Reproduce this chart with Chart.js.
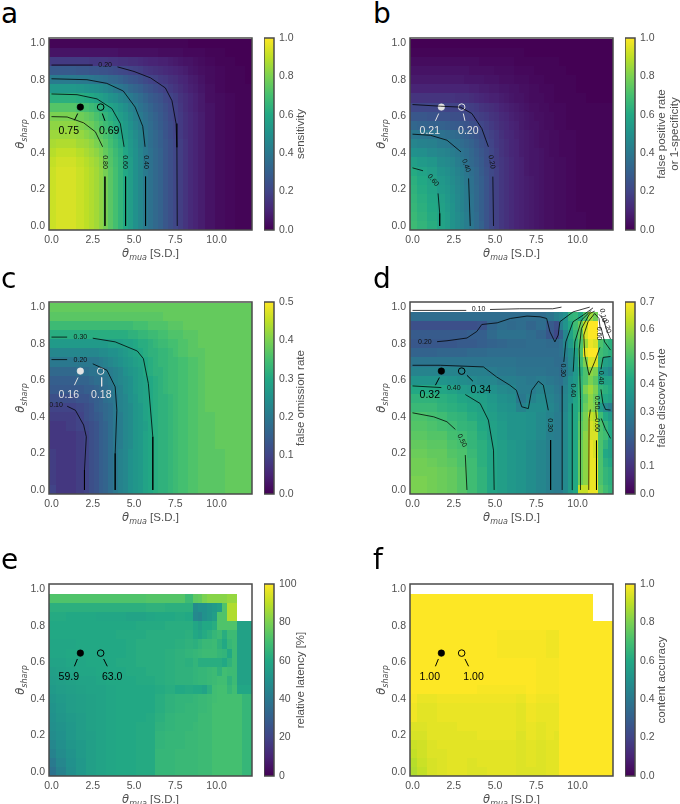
<!DOCTYPE html>
<html>
<head>
<meta charset="utf-8">
<style>
  html, body { margin: 0; padding: 0; background: #fff; }
  #page { position: relative; width: 680px; height: 804px; overflow: hidden; }
  canvas { position: absolute; filter: blur(0.35px); }
  .letter { position: absolute; font: 28px "DejaVu Sans", sans-serif; color: #000; line-height: 28px; }
</style>
<script src="https://cdn.jsdelivr.net/npm/chart.js@4"></script>
</head>
<body>
<div id="page"></div>
<script>
const _ = null;

const muaSmooth = [0, 0.6, 1.2, 1.8, 2.1, 2.4, 2.7, 3, 3.3, 3.6, 3.9, 4.2, 4.5, 4.8, 5.1, 5.4, 5.7, 6, 6.3, 6.6, 6.9, 7.2, 7.5, 7.8, 8.1, 8.4, 8.7, 9, 9.6, 10.2, 10.8, 11.4, 12];
const muaFine = [0, 0.6, 1.2, 1.8, 2.4, 3, 3.6, 4.2, 4.8, 5.4, 6, 6.6, 7.2, 7.8, 8.4, 8.7, 9, 9.3, 9.6, 9.9, 10.2, 10.5, 10.8, 11.1, 11.4, 11.7, 12];
const sharpValues = [0, 0.05, 0.1, 0.15, 0.2, 0.25, 0.3, 0.35, 0.4, 0.45, 0.5, 0.55, 0.6, 0.65, 0.7, 0.75, 0.8, 0.85, 0.9, 0.95, 1];
const muaTicks = [0, 2.5, 5, 7.5, 10];
const sharpTicks = [0, 0.2, 0.4, 0.6, 0.8, 1];

// rows run from sharp = 0 upwards, values are in percent
const sensLow = [92,94,94,92,90,88,86,83,79,74,70,65,60,55,50,46,41,37,34,31,27,24,21,18,15,12,10,8,5,3,2,1,1];
const sensitivity = [
  sensLow, sensLow, sensLow, sensLow, sensLow, sensLow, sensLow,
  [91,93,93,91,89,87,85,82,78,73,69,65,60,55,50,46,41,37,34,31,27,24,21,18,15,12,10,8,5,3,2,1,1],
  [89,91,91,89,87,85,83,80,76,72,68,64,59,54,50,45,41,37,34,31,27,24,21,18,15,12,10,8,5,3,2,1,1],
  [87,88,88,86,85,83,80,77,74,70,66,62,58,53,49,44,40,36,33,30,27,24,21,18,15,12,10,8,5,3,2,1,1],
  [85,85,85,84,82,80,77,74,71,68,64,60,56,52,48,44,40,36,33,30,26,23,20,17,14,12,10,8,5,3,2,1,1],
  [83,83,83,81,79,77,74,71,68,65,62,58,54,50,46,42,38,35,32,29,26,23,20,17,14,12,10,8,5,3,2,1,1],
  [80,80,80,78,76,74,71,68,65,62,59,55,52,48,44,41,37,34,31,28,25,22,19,17,14,12,10,8,5,3,2,1,1],
  [73,73,73,71,70,68,66,63,61,58,55,52,49,45,42,38,35,32,29,27,24,21,19,16,13,11,9,7,5,3,2,1,1],
  [63,63,63,62,61,60,58,56,54,51,49,46,44,41,38,35,32,29,27,25,22,20,18,15,13,11,9,7,4,3,2,1,1],
  [53,53,53,52,51,50,49,48,46,44,41,39,37,34,32,30,27,25,23,21,19,17,15,13,11,9,8,6,4,2,1,1,1],
  [41,41,41,40,40,39,38,37,36,34,33,31,29,27,26,24,22,20,19,17,16,14,13,11,10,8,7,5,3,2,1,1,0],
  [28,28,28,27,27,26,26,25,25,24,23,22,21,20,19,18,16,15,14,13,12,11,10,9,8,6,5,4,3,2,1,1,0],
  [17,17,17,17,17,16,16,16,16,15,15,14,14,13,13,12,11,10,10,9,9,8,7,6,5,5,4,3,2,1,1,0,0],
  [5,5,5,5,5,5,5,5,5,5,5,4,4,4,4,4,4,4,4,3,3,3,3,3,2,2,2,2,1,1,0,0,0],
  [1,1,1,1,1,1,1,1,1,1,1,1,1,1,1,1,1,1,1,1,1,1,1,1,1,0,0,0,0,0,0,0,0]
];

const falsePositive = [
  [68,65,62,58,55,51,48,45,42,39,35,31,26,22,19,16,14,12,10,9,8,7,6,5,4,4,3,3,2,2,1,1,1],
  [67,64,61,58,55,51,48,45,42,38,35,30,26,22,19,16,14,12,10,9,8,7,6,5,4,4,3,3,2,2,1,1,1],
  [66,63,60,57,54,51,47,44,41,38,34,30,26,22,19,16,14,12,10,9,8,7,6,5,4,4,3,3,2,1,1,1,1],
  [65,62,59,56,53,50,47,44,41,38,34,30,26,22,19,16,14,12,10,9,8,7,6,5,4,4,3,3,2,1,1,1,1],
  [64,61,58,54,52,49,46,44,41,37,34,30,26,22,19,16,14,12,10,9,8,7,6,5,4,4,3,3,2,1,1,1,1],
  [63,60,57,53,51,48,45,43,40,37,33,30,26,22,19,16,14,12,10,9,8,7,6,5,4,4,3,3,2,1,1,1,1],
  [61,58,55,51,49,47,44,42,39,36,33,29,25,22,19,16,14,12,10,9,7,6,6,5,4,4,3,3,2,1,1,1,1],
  [56,54,52,48,47,45,42,40,37,34,31,28,24,21,18,16,14,12,10,9,7,6,6,5,4,4,3,3,2,1,1,1,1],
  [50,49,47,45,44,42,40,38,36,33,30,27,24,21,18,15,13,11,10,8,7,6,6,5,4,3,3,2,2,1,1,1,1],
  [45,44,43,41,40,38,37,35,33,31,28,25,23,20,17,15,13,11,10,8,7,6,5,4,4,3,3,2,2,1,1,1,1],
  [40,39,38,37,36,35,34,32,30,28,26,24,21,19,17,14,12,11,9,8,7,6,5,4,4,3,3,2,2,1,1,1,1],
  [33,32,31,31,30,29,28,27,26,24,23,21,19,17,15,13,12,10,9,7,6,5,5,4,3,3,2,2,1,1,1,1,1],
  [27,27,26,25,25,24,24,23,22,21,19,18,17,15,14,12,11,9,8,7,6,5,4,4,3,3,2,2,1,1,1,1,1],
  [21,21,21,21,20,20,20,20,19,18,17,15,14,13,12,10,9,8,7,6,5,4,4,3,3,2,2,2,1,1,1,1,1],
  [15,15,15,15,15,15,14,14,14,13,12,11,10,9,9,8,7,6,5,5,4,3,3,3,2,2,1,1,1,1,0,0,0],
  [10,10,10,10,10,10,10,10,10,9,9,8,8,7,7,6,6,5,5,4,4,3,3,2,2,2,1,1,1,0,0,0,0],
  [7,7,7,7,7,7,7,7,6,6,6,6,5,5,5,4,4,4,3,3,3,2,2,2,1,1,1,1,1,0,0,0,0],
  [5,5,5,5,5,5,5,5,5,4,4,4,4,4,3,3,3,3,2,2,2,2,1,1,1,1,1,1,0,0,0,0,0],
  [3,3,3,3,3,3,3,3,3,3,3,2,2,2,2,2,2,2,1,1,1,1,1,1,1,1,1,0,0,0,0,0,0],
  [1,1,1,1,1,1,1,1,1,1,1,1,1,1,1,1,1,1,1,1,0,0,0,0,0,0,0,0,0,0,0,0,0],
  [0,0,0,0,0,0,0,0,0,0,0,0,0,0,0,0,0,0,0,0,0,0,0,0,0,0,0,0,0,0,0,0,0]
];

const omissionLow = [9,8,8,9,10,12,13,15,16,18,20,22,23,25,26,27,29,30,31,32,32,33,34,35,35,36,36,37,37,37,38,38,38];
const falseOmission = [
  [10,8,8,9,10,12,13,15,16,18,20,22,23,25,26,27,29,30,31,32,32,33,34,35,35,36,36,37,37,37,38,38,38],
  omissionLow, omissionLow, omissionLow, omissionLow,
  [8,8,8,9,10,12,13,15,16,18,20,21,23,24,26,27,29,30,31,32,32,33,34,35,35,36,36,37,37,38,38,38,38],
  [8,8,8,9,10,12,13,15,16,18,20,21,23,24,26,27,29,30,31,32,32,33,34,35,35,36,36,37,37,38,38,38,38],
  [8,8,9,10,11,12,13,15,16,18,20,21,23,24,26,27,28,30,31,32,32,33,34,35,35,36,36,37,37,38,38,38,38],
  [9,9,9,10,12,13,14,15,17,18,20,21,23,24,26,27,29,30,31,32,32,33,34,35,35,36,36,37,37,38,38,38,38],
  [10,10,10,11,12,13,15,16,17,18,20,22,23,24,26,27,29,30,31,32,32,33,34,35,35,36,36,37,38,38,38,38,38],
  [12,12,12,13,13,14,15,16,18,19,20,22,23,25,26,28,29,30,31,32,32,33,34,35,35,36,36,37,38,38,38,38,38],
  [14,14,14,14,15,15,16,17,18,19,21,22,24,25,27,28,29,30,31,32,33,34,34,35,35,36,36,37,38,38,38,38,38],
  [15,15,15,16,16,17,18,18,19,20,22,23,24,25,27,28,29,30,31,32,33,34,34,35,35,36,36,37,38,38,38,38,38],
  [17,17,17,18,18,19,19,19,20,21,22,23,25,26,27,28,30,31,32,32,33,34,34,35,35,36,36,37,38,38,38,38,38],
  [20,20,20,20,20,20,20,21,22,23,24,25,26,27,28,29,30,31,32,33,33,34,34,35,35,36,36,37,38,38,38,38,38],
  [23,23,23,23,23,23,23,24,24,25,25,26,27,28,29,30,31,32,32,33,33,34,35,36,36,37,37,37,38,38,38,38,38],
  [27,27,27,27,27,27,27,27,27,28,28,28,29,29,30,31,31,32,33,34,34,35,35,36,36,37,37,38,38,38,38,38,38],
  [31,31,31,31,31,31,31,31,31,31,31,31,31,32,32,33,33,34,34,35,35,36,36,36,37,37,37,38,38,38,38,38,38],
  [34,34,34,34,34,34,34,34,34,34,34,34,34,34,35,35,35,36,36,36,36,37,37,37,38,38,38,38,38,38,38,38,38],
  [37,37,37,37,37,37,37,37,37,37,37,37,37,37,37,37,37,37,37,37,38,38,38,38,38,38,38,38,38,38,38,38,38],
  [38,38,38,38,38,38,38,38,38,38,38,38,38,38,38,38,38,38,38,38,38,38,38,38,38,38,38,38,38,38,38,38,38]
];

const falseDiscovery = [
  [56,56,55,54,53,51,48,45,41,39,37,36,34,32,30,29,29,33,38,42,64,64,68,68,52,48,45],
  [56,56,55,54,53,51,48,45,41,39,37,36,34,32,30,29,29,33,38,42,54,58,68,68,50,46,44],
  [55,55,55,54,53,51,48,45,41,39,37,36,34,32,30,29,29,33,38,42,54,58,68,68,50,46,44],
  [55,55,54,53,52,50,48,44,41,39,37,36,34,32,30,29,29,33,38,42,54,58,68,68,50,44,42],
  [54,54,53,53,51,50,47,44,41,39,37,36,34,32,30,29,29,33,38,42,54,58,68,66,50,42,40],
  [53,53,52,52,50,49,46,44,41,39,37,36,34,32,30,29,29,33,38,42,54,58,68,66,50,45,40],
  [52,52,51,51,49,48,46,43,40,38,36,36,35,33,30,29,29,33,38,42,52,58,66,66,50,48,42],
  [51,51,50,49,48,46,45,42,40,38,36,36,35,33,31,29,29,33,38,42,52,56,66,64,50,46,42],
  [50,50,49,48,46,45,43,41,39,37,36,36,35,33,31,29,29,33,38,42,50,56,64,62,48,42,38],
  [47,47,47,45,44,43,41,40,38,36,35,31,34,34,32,30,28,32,37,42,46,54,58,56,38,33,30],
  [45,45,45,44,43,41,40,39,37,35,34,28,31,33,31,29,28,32,36,41,46,52,58,54,44,42,40],
  [42,42,42,41,40,38,37,36,35,33,32,29,29,31,30,28,27,31,35,40,46,56,60,56,46,44,42],
  [36,36,36,36,35,34,33,32,32,30,30,29,28,29,28,27,26,30,35,38,46,50,56,52,42,40,40],
  [31,31,31,31,31,31,30,30,29,28,28,27,27,27,26,26,25,28,32,37,44,50,58,56,38,35,32],
  [27,27,27,27,27,27,27,27,27,27,27,26,26,26,26,25,25,28,33,38,48,56,66,66,46,40,38],
  [22,22,22,23,23,23,24,24,25,25,25,25,25,25,25,25,26,30,34,40,50,68,70,70,48,46,44],
  [19,19,19,19,19,20,20,21,22,23,24,24,25,25,24,24,26,32,38,44,50,60,68,66,50,46,44],
  [20,20,20,20,20,20,21,21,24,26,26,26,25,23,19,15,22,32,40,46,52,66,70,70,_,_,_],
  [17,17,17,17,17,17,17,18,23,25,24,25,23,25,20,17,30,36,42,48,54,64,70,70,_,_,_],
  [25,25,25,25,25,25,25,25,25,25,25,25,25,25,27,30,32,35,45,46,42,50,60,55,_,_,_],
  [_,_,_,_,_,_,_,_,_,_,_,_,_,_,_,_,_,_,_,_,_,_,_,_,_,_,_]
];

const latency = [
  [38,44,49,53,56,58,59,60,60,61,61,66,66,67,67,67,68,68,68,70,70,70,70,70,70,66,66],
  [41,46,50,53,56,58,59,60,60,61,61,66,66,67,67,67,68,68,68,70,70,70,70,70,70,66,66],
  [44,48,51,54,56,58,59,60,60,61,61,66,66,67,67,67,68,68,68,70,70,70,70,70,70,66,66],
  [46,49,52,54,56,58,59,60,60,61,61,65,66,66,67,67,68,68,68,70,70,70,70,70,70,66,66],
  [48,50,53,55,56,58,59,60,60,61,61,65,66,66,67,67,68,68,68,70,70,70,70,70,70,66,66],
  [49,51,53,55,57,58,59,60,60,61,61,64,65,66,66,67,68,68,68,70,70,70,70,70,70,66,66],
  [50,52,54,55,57,58,59,60,60,60,61,63,65,66,66,66,68,68,68,70,70,70,70,70,70,66,66],
  [51,53,55,56,57,58,59,60,60,60,60,62,64,65,66,66,67,67,68,70,70,70,70,70,70,66,66],
  [52,54,55,56,57,58,59,60,60,60,60,62,64,65,65,66,67,67,68,69,70,70,70,70,70,66,66],
  [54,55,56,57,58,58,59,60,60,60,60,61,62,60,61,60,60,58,63,69,70,70,66,69,59,59,59],
  [55,56,57,58,58,59,60,60,60,61,61,62,63,64,64,65,66,66,67,68,69,69,64,68,57,57,57],
  [56,57,58,59,59,60,60,60,61,61,62,62,63,64,64,65,66,66,67,68,64,69,68,68,57,57,57],
  [58,58,59,59,60,60,60,61,61,62,62,62,63,64,63,65,62,62,62,62,62,60,64,68,57,57,57],
  [59,59,60,60,60,60,60,60,61,62,62,62,63,64,65,66,67,68,68,68,66,65,60,68,57,57,57],
  [59,59,59,60,60,60,60,60,61,62,62,62,62,63,64,63,65,67,67,68,64,60,66,68,57,57,57],
  [60,60,60,60,60,60,60,61,61,61,62,62,62,62,63,60,58,61,63,66,68,62,68,68,57,57,57],
  [60,60,60,60,60,60,60,60,60,61,61,61,62,62,62,59,56,60,60,62,72,72,72,72,57,57,57],
  [61,61,60,60,60,59,59,59,58,58,59,60,60,61,60,47,45,50,52,55,72,72,88,88,_,_,_],
  [63,63,63,63,63,63,63,63,63,63,64,64,63,63,63,48,50,50,52,54,56,72,88,88,_,_,_],
  [72,72,72,72,72,72,72,72,72,72,73,73,73,73,68,75,76,80,82,82,82,82,84,84,_,_,_],
  [_,_,_,_,_,_,_,_,_,_,_,_,_,_,_,_,_,_,_,_,_,_,_,_,_,_,_]
];

const accuracy = [
  [88,91,94,95,96,96,95,95,96,96,96,95,95,95,96,96,100,100,100,100,100,100,100,100,100,100,100],
  [89,92,94,95,96,96,95,96,96,96,96,95,96,95,96,96,100,100,100,100,100,100,100,100,100,100,100],
  [91,93,95,95,96,96,96,96,96,96,96,95,96,95,96,96,100,100,100,100,100,100,100,100,100,100,100],
  [92,93,95,96,96,96,96,96,96,96,96,95,96,95,96,96,100,100,100,100,100,100,100,100,100,100,100],
  [94,94,96,96,96,96,96,97,97,97,97,95,97,96,97,96,100,100,100,100,100,100,100,100,100,100,100],
  [95,95,96,96,96,97,97,97,97,97,97,96,97,96,97,97,100,100,100,100,100,100,100,100,100,100,100],
  [98,96,96,97,97,97,97,97,97,97,97,96,98,97,97,97,100,100,100,100,100,100,100,100,100,100,100],
  [98,96,96,97,97,97,97,97,97,97,97,96,98,97,97,97,100,100,100,100,100,100,100,100,100,100,100],
  [99,97,97,98,98,98,98,98,98,98,98,97,99,98,98,98,100,100,100,100,100,100,100,100,100,100,100],
  [100,100,100,100,100,100,100,99,99,99,99,99,100,99,99,99,100,100,100,100,100,100,100,100,100,100,100],
  [100,100,100,100,100,100,100,100,100,100,100,100,100,99,99,99,100,100,100,100,100,100,100,100,100,100,100],
  [100,100,100,100,100,100,100,100,100,100,100,100,100,99,99,99,100,100,100,100,100,100,100,100,100,100,100],
  [100,100,100,100,100,100,100,100,100,100,100,100,100,99,99,99,100,100,100,100,100,100,100,100,100,100,100],
  [100,100,100,100,100,100,100,100,100,99,99,99,99,99,98,98,100,100,100,100,100,100,100,100,100,100,100],
  [100,100,100,100,100,100,100,100,100,99,99,99,99,99,98,98,100,100,100,100,100,100,100,100,100,100,100],
  [100,100,100,100,100,100,100,100,100,99,99,99,99,99,98,98,100,100,100,100,100,100,100,100,100,100,100],
  [100,100,100,100,100,100,100,100,100,100,100,100,100,100,100,100,100,100,100,100,100,100,100,100,100,100,100],
  [100,100,100,100,100,100,100,100,100,100,100,100,100,100,100,100,100,100,100,100,100,100,100,_,_,_,_],
  [100,100,100,100,100,100,100,100,100,100,100,100,100,100,100,100,100,100,100,100,100,100,100,_,_,_,_],
  [100,100,100,100,100,100,100,100,100,100,100,100,100,100,100,100,100,100,100,100,100,100,100,_,_,_,_],
  [_,_,_,_,_,_,_,_,_,_,_,_,_,_,_,_,_,_,_,_,_,_,_,_,_,_,_]
];

// contour lines as [mua, sharp], null lifts the pen
const contoursA = [
  [[0,.88],[2.5,.88],_,[4,.87],[5,.845],[6,.81],[6.9,.755],[7.3,.685],[7.55,.56],[7.6,.43],[7.62,0]],
  [[0,.805],[2.15,.8],[3.35,.78],[4.35,.738],[5.07,.65],[5.53,.545],[5.67,.433],_,[5.7,.27],[5.7,0]],
  [[0,.722],[1.55,.718],[2.76,.695],[3.66,.642],[4.17,.56],[4.4,.433],_,[4.49,.27],[4.49,0]],
  [[0,.598],[.95,.596],[1.95,.564],[2.66,.515],[3.1,.433],_,[3.24,.27],[3.24,0]]
];
const contoursB = [
  [[0,.664],[1.69,.655],[2.9,.65],[3.6,.615],[4.2,.533],[4.6,.433],_,[4.87,.27],[4.91,0]],
  [[0,.502],[1.09,.496],[2.09,.469],[2.94,.405],_,[3.4,.26],[3.5,0]],
  [[0,.318],[.64,.302],_,[1.55,.178],[1.65,.069],[1.65,0]]
];
const contoursC = [
  [[.95,.458],[1.45,.436],[1.95,.355],[2.11,.291],[2,.109],[2,0]],
  [[0,.713],[.95,.713],_,[2.5,.69],[3.36,.655],[3.86,.564],[3.96,.436],[3.86,.2],[3.86,0]],
  [[0,.836],[.95,.836],_,[2.5,.83],[3.86,.81],[5.2,.76],[5.57,.718],[5.87,.582],[6.14,.291],[6.14,0]]
];
const contoursD = [
  [[0,.982],[3.26,.982],_,[4.7,.987],[6.5,.991],[8.5,.991],[9.03,1]],
  [[1.49,.811],[2.09,.816],[3.3,.831],[3.9,.867],[4.2,.905],[5.13,.914],[5.93,.938],[6.94,.951],[7.73,.947],[8.13,.938],[8.33,.865],[8.63,.81],[8.83,.847],[8.93,.92],[9.73,.974],[10.74,1]],
  [[0,.682],[1.69,.682],[4.3,.673],[5.1,.618],[5.9,.573],[6.3,.545],[6.62,.455],[7.02,.445],[7.22,.545],[7.63,.595],[7.93,.573],[8.23,.436],_,[8.37,.273],[8.37,0]],
  [[9.07,0],[9.07,.57],_,[9.17,.7],[9.29,.81],[9.73,.92],[10.34,.956],[10.94,.996]],
  [[0,.569],[1.75,.56],_,[3.2,.522],[4.1,.473],[4.6,.382],[4.91,.218],[4.95,0]],
  [[9.67,0],[9.68,.473],_,[9.74,.647],[9.84,.81],[10.24,.929],[10.84,.983]],
  [[0,.422],[1.29,.4],[2.09,.373],[2.6,.331],_,[3.2,.191],[3.3,0]],
  [[10.18,0],[10.18,.5],[10.1,.77],[10.24,.883],[10.74,.965],[11.04,.978]],
  [[10.68,0],[10.7,.39],[10.78,.44],_,[11.1,.44],[11.15,.39],_,[11.15,.27],[11.15,0]],
  [[10.7,.628],[10.44,.738],[10.38,.847],[10.64,.92],[11.04,.965],[11.3,.938],[11.38,.88],_,[11.36,.78],[11.04,.701],[10.7,.628]],
  [[11.44,.883],[11.64,.81],[12,.765]],
  [[11.3,.96],[11.54,.938],[11.85,.856],[12,.825]],
  [[12,.73],[11.55,.725],[11.42,.66],_,[11.42,.55],[11.54,.473],[11.7,.44],[12,.437]],
  [[11.44,.391],[11.68,.336],[12,.282]]
];

// contour labels: [text, mua, sharp, rotation in degrees]
const levelLabelsA = [['0.20',3.25,.88,0],['0.40',5.7,.35,90],['0.60',4.47,.35,90],['0.80',3.22,.35,90]];
const levelLabelsB = [['0.20',4.8,.35,80],['0.40',3.25,.33,70],['0.60',1.25,.25,50]];
const levelLabelsC = [['0.10',.28,.465,0],['0.20',1.75,.713,0],['0.30',1.75,.836,0]];
const levelLabelsD = [
  ['0.10',4,.987,0],['0.20',.75,.807,0],['0.40',2.5,.555,0],['0.50',3,.27,65],['0.30',8.33,.355,90],
  ['0.30',9.13,.655,90],['0.40',9.74,.545,90],['0.60',11.15,.355,90],['0.50',11.2,.478,90],
  ['0.40',11.41,.615,90],['0.60',11.3,.856,90],['0.10',11.55,.955,80],['0.20',11.8,.895,75]
];

// reference points, their leader lines and their printed values
const pointMua = [1.75, 2.98];
const pointSharp = [0.65, 0.65];
const leadersA = [[[1.59,.615],[1.39,.578]],[[3.08,.615],[3.24,.575]]];
const leadersB = [[[1.59,.615],[1.39,.575]],[[3.08,.615],[3.18,.575]]];
const leadersC = [[[1.61,.615],[1.39,.573]],[[3.04,.615],[3.04,.567]]];
const leadersD = [[[1.63,.615],[1.39,.573]],[[3.3,.627],[3.66,.595]]];
const leadersE = [[[1.57,.618],[1.39,.578]],[[3.16,.618],[3.38,.578]]];
const leadersF = [[[1.57,.618],[1.39,.578]],[[3.18,.618],[3.4,.578]]];
const valuesA = [['0.75',1.05,.518],['0.69',3.5,.518]];
const valuesB = [['0.21',1.05,.518],['0.20',3.38,.518]];
const valuesC = [['0.16',1.05,.518],['0.18',3.02,.518]];
const valuesD = [['0.32',1.05,.518],['0.34',4.14,.545]];
const valuesE = [['59.9',1.05,.52],['63.0',3.68,.52]];
const valuesF = [['1.00',1.05,.52],['1.00',3.7,.52]];

const viridisStops = ['#440154','#482475','#414487','#355f8d','#2a788e','#21918c','#22a884','#44bf70','#7ad151','#bddf26','#fde725'];

const panels = [
  { letter: 'a', lx: 1, ly: 0, left: 49, top: 38, rows: sensitivity, mua: muaSmooth, vmax: 100, cbMax: 1, cbTicks: [0,.2,.4,.6,.8,1], cbDigits: 1, cbTitle: ['sensitivity'], contours: contoursA, levels: levelLabelsA, leaders: leadersA, values: valuesA, mark: '#000' },
  { letter: 'b', lx: 373, ly: 0, left: 410, top: 38, rows: falsePositive, mua: muaSmooth, vmax: 100, cbMax: 1, cbTicks: [0,.2,.4,.6,.8,1], cbDigits: 1, cbTitle: ['false positive rate','or 1-specificity'], contours: contoursB, levels: levelLabelsB, leaders: leadersB, values: valuesB, mark: '#e4e4e4' },
  { letter: 'c', lx: 1, ly: 265, left: 49, top: 302, rows: falseOmission, mua: muaSmooth, vmax: 50, cbMax: .5, cbTicks: [0,.1,.2,.3,.4,.5], cbDigits: 1, cbTitle: ['false omission rate'], contours: contoursC, levels: levelLabelsC, leaders: leadersC, values: valuesC, mark: '#e4e4e4' },
  { letter: 'd', lx: 373, ly: 265, left: 410, top: 302, rows: falseDiscovery, mua: muaFine, vmax: 70, cbMax: .7, cbTicks: [0,.1,.2,.3,.4,.5,.6,.7], cbDigits: 1, cbTitle: ['false discovery rate'], contours: contoursD, levels: levelLabelsD, leaders: leadersD, values: valuesD, mark: '#000' },
  { letter: 'e', lx: 1, ly: 546, left: 49, top: 584, rows: latency, mua: muaFine, vmax: 100, cbMax: 100, cbTicks: [0,20,40,60,80,100], cbDigits: 0, cbTitle: ['relative latency [%]'], contours: [], levels: [], leaders: leadersE, values: valuesE, mark: '#000' },
  { letter: 'f', lx: 373, ly: 546, left: 410, top: 584, rows: accuracy, mua: muaFine, vmax: 100, cbMax: 1, cbTicks: [0,.2,.4,.6,.8,1], cbDigits: 1, cbTitle: ['content accuracy'], contours: [], levels: [], leaders: leadersF, values: valuesF, mark: '#000' }
];

const TICK_COLOR = '#505050';
const TICK_FONT = { family: '"Liberation Sans", sans-serif', size: 10.5 };
const FRAME_COLOR = '#4a4a4a';

function viridis(t) {
  const pos = Math.min(Math.max(t, 0), 1) * (viridisStops.length - 1);
  const i = Math.min(Math.floor(pos), viridisStops.length - 2);
  const f = pos - i;
  const rgb = s => [1, 3, 5].map(k => parseInt(s.substr(k, 2), 16));
  const a = rgb(viridisStops[i]), b = rgb(viridisStops[i + 1]);
  return `rgb(${a.map((c, k) => Math.round(c + (b[k] - c) * f)).join(',')})`;
}

function toLine(points) {
  return points.map(p => (p ? { x: p[0], y: p[1] } : { x: NaN, y: NaN }));
}

// one cell per grid value, half way to the neighbour on each side
function buildCells(panel) {
  const cells = [];
  panel.rows.forEach((row, r) => {
    row.forEach((v, c) => {
      if (v === null) return;
      const m = panel.mua;
      cells.push({
        x: m[c],
        y: sharpValues[r],
        v,
        xLo: c ? (m[c - 1] + m[c]) / 2 : -0.15,
        xHi: c < m.length - 1 ? (m[c] + m[c + 1]) / 2 : 12.15
      });
    });
  });
  return cells;
}

function zeroPadding(s) {
  s.paddingTop = 0;
  s.paddingBottom = 0;
  s.paddingLeft = 0;
  s.paddingRight = 0;
}

const heatPlugin = {
  id: 'heat',
  beforeDatasetsDraw(chart, args, opts) {
    const { ctx, scales: { x, y } } = chart;
    const dy = 0.025;
    ctx.save();
    ctx.beginPath();
    ctx.rect(chart.chartArea.left, chart.chartArea.top, chart.chartArea.width, chart.chartArea.height);
    ctx.clip();
    chart.data.datasets[0].data.forEach(cell => {
      const x0 = Math.round(x.getPixelForValue(cell.xLo));
      const x1 = Math.round(x.getPixelForValue(cell.xHi));
      const y0 = Math.round(y.getPixelForValue(cell.y + dy));
      const y1 = Math.round(y.getPixelForValue(cell.y - dy));
      ctx.fillStyle = viridis(cell.v / opts.vmax);
      ctx.fillRect(x0, y0, x1 - x0, y1 - y0);
    });
    ctx.restore();
  }
};

function drawMathLabel(ctx, cx, cy, rotation, sub, tail) {
  ctx.save();
  ctx.translate(cx, cy);
  ctx.rotate(rotation);
  ctx.fillStyle = TICK_COLOR;
  ctx.textBaseline = 'alphabetic';
  ctx.textAlign = 'left';
  const bigItalic = 'italic 11.5px "DejaVu Sans"';
  const smallItalic = 'italic 8px "DejaVu Sans"';
  const plain = '11.5px "Liberation Sans"';
  ctx.font = bigItalic;
  const w0 = ctx.measureText('θ').width;
  ctx.font = smallItalic;
  const w1 = ctx.measureText(sub).width;
  ctx.font = plain;
  const w2 = tail ? ctx.measureText(tail).width : 0;
  let px = -(w0 + w1 + w2) / 2;
  ctx.font = bigItalic;
  ctx.fillText('θ', px, 4);
  px += w0;
  ctx.font = smallItalic;
  ctx.fillText(sub, px, 6.5);
  px += w1;
  if (tail) {
    ctx.font = plain;
    ctx.fillText(tail, px, 4);
  }
  ctx.restore();
}

const overlayPlugin = {
  id: 'overlay',
  afterDatasetsDraw(chart, args, opts) {
    const { ctx, chartArea, scales: { x, y } } = chart;
    const panel = opts.panel;
    ctx.save();
    ctx.textAlign = 'center';
    ctx.textBaseline = 'middle';
    // inline contour labels
    ctx.fillStyle = '#111';
    ctx.font = '7px "Liberation Sans"';
    panel.levels.forEach(([text, mx, my, rot]) => {
      ctx.save();
      ctx.translate(x.getPixelForValue(mx), y.getPixelForValue(my));
      ctx.rotate(rot * Math.PI / 180);
      ctx.fillText(text, 0, 0);
      ctx.restore();
    });
    // values next to the reference points
    ctx.fillStyle = panel.mark;
    ctx.font = '10.5px "Liberation Sans"';
    panel.values.forEach(([text, mx, my]) => {
      ctx.fillText(text, x.getPixelForValue(mx), y.getPixelForValue(my));
    });
    // frame
    ctx.strokeStyle = FRAME_COLOR;
    ctx.lineWidth = 1.5;
    ctx.strokeRect(chartArea.left, chartArea.top, chartArea.width, chartArea.height);
    ctx.restore();
    const midX = (chartArea.left + chartArea.right) / 2;
    const midY = (chartArea.top + chartArea.bottom) / 2;
    drawMathLabel(ctx, midX, chartArea.bottom + 23, 0, 'mua', ' [S.D.]');
    drawMathLabel(ctx, chartArea.left - 29, midY, -Math.PI / 2, 'sharp', '');
  }
};

const colorbarPlugin = {
  id: 'colorbar',
  beforeDatasetsDraw(chart, args, opts) {
    const { ctx, chartArea: a } = chart;
    const grad = ctx.createLinearGradient(0, a.bottom, 0, a.top);
    viridisStops.forEach((c, i) => grad.addColorStop(i / (viridisStops.length - 1), c));
    ctx.fillStyle = grad;
    ctx.fillRect(a.left, a.top, a.width, a.height);
  },
  afterDatasetsDraw(chart, args, opts) {
    const { ctx, chartArea: a } = chart;
    ctx.save();
    ctx.strokeStyle = FRAME_COLOR;
    ctx.lineWidth = 1.5;
    ctx.strokeRect(a.left, a.top, a.width, a.height);
    ctx.translate(a.right + 27, (a.top + a.bottom) / 2);
    ctx.rotate(-Math.PI / 2);
    ctx.fillStyle = TICK_COLOR;
    ctx.font = '11.5px "Liberation Sans"';
    ctx.textAlign = 'center';
    ctx.textBaseline = 'middle';
    opts.lines.forEach((line, i) => ctx.fillText(line, 0, i * 13));
    ctx.restore();
  }
};

function addCanvas(left, top, width, height) {
  const canvas = document.createElement('canvas');
  canvas.width = width;
  canvas.height = height;
  canvas.style.left = left + 'px';
  canvas.style.top = top + 'px';
  canvas.style.width = width + 'px';
  canvas.style.height = height + 'px';
  document.getElementById('page').appendChild(canvas);
  return canvas;
}

function drawPanel(panel) {
  const letter = document.createElement('div');
  letter.className = 'letter';
  letter.textContent = panel.letter;
  letter.style.left = panel.lx + 'px';
  letter.style.top = panel.ly + 'px';
  document.getElementById('page').appendChild(letter);

  const datasets = [{ label: 'cells', data: buildCells(panel), pointRadius: 0, showLine: false }];
  panel.contours.forEach(line => datasets.push({
    label: 'contour', data: toLine(line), showLine: true, pointRadius: 0, borderColor: 'rgba(0,0,0,0.85)', borderWidth: 0.9, spanGaps: false
  }));
  panel.leaders.forEach(line => datasets.push({
    label: 'leader', data: toLine(line), showLine: true, pointRadius: 0, borderColor: panel.mark, borderWidth: 1
  }));
  datasets.push({
    label: 'filled', data: [{ x: pointMua[0], y: pointSharp[0] }], pointRadius: 3.3,
    backgroundColor: panel.mark, borderColor: panel.mark, borderWidth: 0.5
  });
  datasets.push({
    label: 'open', data: [{ x: pointMua[1], y: pointSharp[1] }], pointRadius: 3.3,
    backgroundColor: 'rgba(0,0,0,0)', borderColor: panel.mark, borderWidth: 1
  });

  new Chart(addCanvas(panel.left - 49, panel.top - 8, 260, 244), {
    type: 'scatter',
    data: { datasets },
    plugins: [heatPlugin, overlayPlugin],
    options: {
      responsive: false,
      animation: false,
      layout: { padding: { top: 8, right: 8, left: 0, bottom: 0 } },
      plugins: {
        legend: { display: false },
        tooltip: { enabled: false },
        heat: { vmax: panel.vmax },
        overlay: { panel }
      },
      scales: {
        x: {
          min: -0.15, max: 12.15,
          afterBuildTicks: s => { s.ticks = muaTicks.map(value => ({ value })); },
          afterFit: s => { s.height = 44; zeroPadding(s); },
          grid: { display: false, drawTicks: false },
          border: { display: false },
          ticks: { autoSkip: false, maxRotation: 0, padding: 4, color: TICK_COLOR, font: TICK_FONT, callback: v => v.toFixed(1) }
        },
        y: {
          min: -0.022, max: 1.028,
          afterBuildTicks: s => { s.ticks = sharpTicks.map(value => ({ value })); },
          afterFit: s => { s.width = 49; zeroPadding(s); },
          grid: { display: false, drawTicks: false },
          border: { display: false },
          ticks: { autoSkip: false, padding: 4, color: TICK_COLOR, font: TICK_FONT, callback: v => v.toFixed(1) }
        }
      }
    }
  });

  new Chart(addCanvas(panel.left + 215, panel.top - 8, 65, 212), {
    type: 'scatter',
    data: { datasets: [{ data: [], pointRadius: 0 }] },
    plugins: [colorbarPlugin],
    options: {
      responsive: false,
      animation: false,
      layout: { padding: { top: 8, right: 0, left: 0, bottom: 12 } },
      plugins: {
        legend: { display: false },
        tooltip: { enabled: false },
        colorbar: { lines: panel.cbTitle }
      },
      scales: {
        x: { display: false, min: 0, max: 1 },
        y: {
          position: 'right',
          min: 0, max: panel.cbMax,
          afterBuildTicks: s => { s.ticks = panel.cbTicks.map(value => ({ value })); },
          afterFit: s => { s.width = 55; zeroPadding(s); },
          grid: { display: false, drawTicks: false },
          border: { display: false },
          ticks: { autoSkip: false, padding: 5, color: TICK_COLOR, font: TICK_FONT, callback: v => v.toFixed(panel.cbDigits) }
        }
      }
    }
  });
}

panels.forEach(drawPanel);
</script>
</body>
</html>
